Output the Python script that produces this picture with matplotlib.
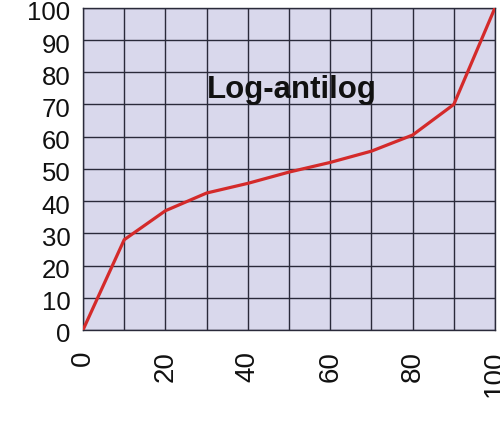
import matplotlib
matplotlib.use("Agg")
import matplotlib.pyplot as plt
import matplotlib.transforms as mtransforms

# Dane
x_vals = [0, 10, 20, 30, 40, 50, 60, 70, 80, 90, 100]
y_vals = [0, 28, 37, 42.5, 45.5, 49, 52, 55.5, 60.5, 70, 100]
y_ticks = list(range(0, 101, 10))
x_ticks = list(range(0, 101, 10))
x_labels = [str(v) if v % 20 == 0 else "" for v in x_ticks]
title = "Log-antilog"

plt.rcParams['font.family'] = ['Liberation Sans', 'DejaVu Sans']

fig = plt.figure(figsize=(5, 4.33), dpi=100)
ax = fig.add_axes([0.166, 0.238, 0.824, 0.744])
ax.set_facecolor('#d9d8ec')

ax.plot(x_vals, y_vals, color='#d42a2a', linewidth=2.3, solid_joinstyle='miter', zorder=3)

ax.set_xlim(0, 100)
ax.set_ylim(0, 100)
ax.set_xticks(x_ticks)
ax.set_xticklabels(x_labels, rotation=90, fontsize=20)
ax.set_yticks(y_ticks)
ax.tick_params(axis='both', length=0, colors='#111111')
ax.tick_params(axis='y', labelsize=18.5, pad=9)
ax.tick_params(axis='x', pad=15)

# etykiety osi Y lekko w dół, jak w oryginale
przesun = mtransforms.ScaledTranslation(0, -3 / 100, fig.dpi_scale_trans)
for lbl in ax.get_yticklabels():
    lbl.set_transform(lbl.get_transform() + przesun)

ax.grid(True, color='#2a2a3a', linewidth=1.0)
ax.set_axisbelow(True)
for side in ['left', 'top', 'right', 'bottom']:
    ax.spines[side].set_color('#2a2a3a')
    ax.spines[side].set_linewidth(1.0)

ax.text(50.7, 72.0, title, ha='center', va='baseline', fontsize=22.5,
        fontweight='bold', color='#111111', zorder=4)

fig.savefig("out.png", dpi=100)
